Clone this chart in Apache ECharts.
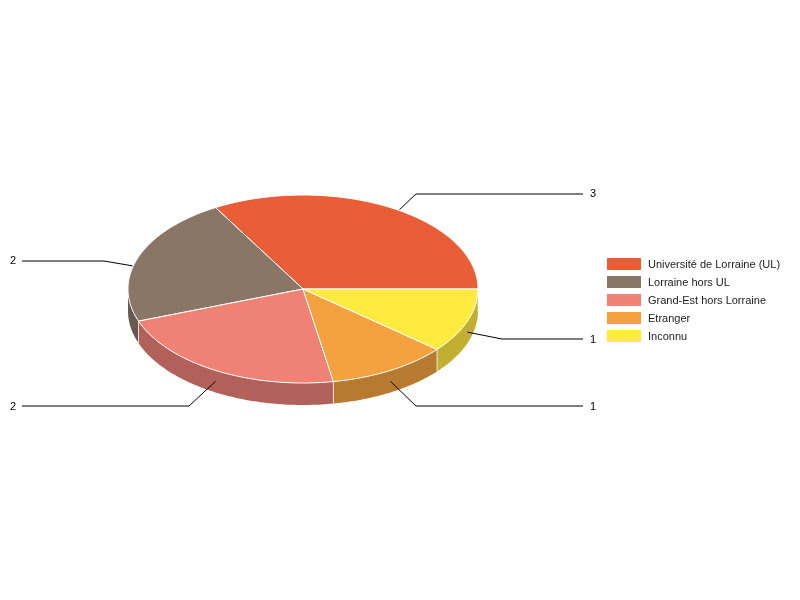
<!DOCTYPE html>
<html>
<head>
<meta charset="utf-8">
<style>html,body{margin:0;padding:0;background:#fff}#c{width:800px;height:600px}</style>
<script src="https://cdn.jsdelivr.net/npm/echarts@6/dist/echarts.min.js"></script>
</head>
<body>
<div id="c"></div>
<script>
var categories = ['Université de Lorraine (UL)', 'Lorraine hors UL', 'Grand-Est hors Lorraine', 'Etranger', 'Inconnu'];
var values = [3, 2, 2, 1, 1];
var topColors = ['#EA5E37', '#897667', '#EF8274', '#F4A140', '#FFEA3F'];
var sideColors = ['#B0472A', '#67594E', '#B16159', '#B77A31', '#C1B030'];

// Projection of the disc, and the elbowed leader line geometry
var CX = 303, CY = 289, RX = 175, RY = 94, DEPTH = 22;
var anchorShift = [[9, 2], [-6, 9], [0, 11], [0, 11], [0, 11]];
var elbowShift = [[16, -16], [-29, -5], [-26, 25], [25, 25], [35, 7]];
var LEFT_END = 22, RIGHT_END = 583, LEFT_TEXT = 10, RIGHT_TEXT = 590;
var labelNudge = [0, 0, 1, 1, 1];

var total = values.reduce(function (a, b) { return a + b; }, 0);
function pt(deg, drop) {
  var r = deg * Math.PI / 180;
  return [CX + RX * Math.cos(r), CY - RY * Math.sin(r) + (drop || 0)];
}
function arc(a, b, drop) {
  var out = [], n = Math.max(2, Math.ceil(Math.abs(b - a)));
  for (var i = 0; i <= n; i++) out.push(pt(a + (b - a) * i / n, drop));
  return out;
}

function makeRender(idx, startDeg, endDeg) {
  return function () {
    var kids = [];
    var from = Math.max(startDeg, 180), to = Math.min(endDeg, 360);
    if (to > from) {
      var side = arc(from, to, 0).concat(arc(to, from, DEPTH));
      kids.push({ type: 'polygon', shape: { points: side }, z2: 1,
        style: { fill: sideColors[idx], stroke: null } });
      var e = pt(to, 0);
      kids.push({ type: 'line', shape: { x1: e[0], y1: e[1], x2: e[0], y2: e[1] + DEPTH }, z2: 2,
        style: { stroke: '#fff', lineWidth: 1, opacity: 0.75 } });
    }
    var top = [[CX, CY]].concat(arc(startDeg, endDeg, 0));
    kids.push({ type: 'polygon', shape: { points: top }, z2: 5,
      style: { fill: topColors[idx], stroke: '#fff', lineWidth: 1, lineJoin: 'round' } });

    var mid = (startDeg + endDeg) / 2, base = pt(mid, 0);
    var a = [base[0] + anchorShift[idx][0], base[1] + anchorShift[idx][1]];
    var b = [Math.round(base[0] + anchorShift[idx][0] + elbowShift[idx][0]),
             Math.round(base[1] + anchorShift[idx][1] + elbowShift[idx][1])];
    var isRight = Math.cos(mid * Math.PI / 180) > 0;
    kids.push({ type: 'polyline', shape: { points: [a, b, [isRight ? RIGHT_END : LEFT_END, b[1]]] }, z2: 8,
      style: { fill: null, stroke: '#000', lineWidth: 1 } });
    kids.push({ type: 'text', z2: 9,
      style: { x: isRight ? RIGHT_TEXT : LEFT_TEXT, y: b[1] + labelNudge[idx], text: String(values[idx]),
        fill: '#000', font: '11px "Liberation Sans", Arial, sans-serif',
        align: 'left', verticalAlign: 'middle' } });
    return { type: 'group', children: kids };
  };
}

var series = [], acc = 0;
categories.forEach(function (name, i) {
  var s = acc / total * 360;
  acc += values[i];
  var e = acc / total * 360;
  series.push({
    type: 'custom', name: name, coordinateSystem: 'none', silent: true,
    itemStyle: { color: topColors[i] },
    data: [[values[i]]],
    renderItem: makeRender(i, s, e)
  });
});

var chart = echarts.init(document.getElementById('c'), null, { renderer: 'canvas' });
chart.setOption({
  animation: false,
  backgroundColor: '#fff',
  legend: {
    orient: 'vertical', left: 607, top: 258,
    icon: 'rect', itemWidth: 34, itemHeight: 12, itemGap: 6, padding: 0,
    selectedMode: false,
    formatter: '{a|{name}}',
    textStyle: {
      rich: { a: { fontFamily: '"Liberation Sans", Arial, sans-serif', fontSize: 11, color: '#222', lineHeight: 11, padding: [1, 0, 0, 2] } }
    },
    data: categories
  },
  series: series
});
</script>
</body>
</html>
